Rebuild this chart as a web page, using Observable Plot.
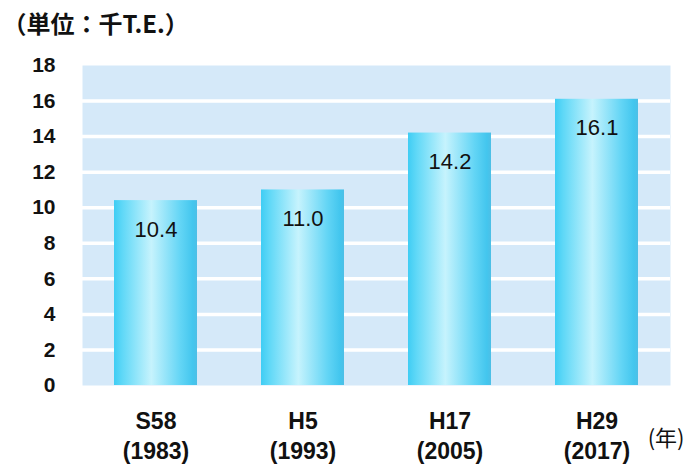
<!DOCTYPE html>
<html><head><meta charset="utf-8">
<script src="https://cdn.jsdelivr.net/npm/d3@7"></script>
<script src="https://cdn.jsdelivr.net/npm/@observablehq/plot@0.6"></script>
<style>
body{margin:0;background:#fff;}
#wrap{position:relative;width:686px;height:467px;}
</style></head>
<body><div id="wrap"></div>
<script>
const categories = ["S58\n(1983)", "H5\n(1993)", "H17\n(2005)", "H29\n(2017)"];
const values = [10.4, 11.0, 14.2, 16.1];
const labels = ["10.4", "11.0", "14.2", "16.1"];
const yTicks = [0, 2, 4, 6, 8, 10, 12, 14, 16, 18];
const gridLines = [2, 4, 6, 8, 10, 12, 14, 16];
const unitLabel = "（単位：千T.E.）";
const xUnit = "(年)";

const data = categories.map((c, i) => ({cat: c, value: values[i], label: labels[i]}));
const font = "'Liberation Sans', Arial, sans-serif";
const cjk = "'Noto Sans CJK JP', sans-serif";

const chart = Plot.plot({
  width: 686, height: 467,
  marginLeft: 82, marginRight: 16, marginTop: 65, marginBottom: 82,
  style: {fontFamily: font, background: "#fff", overflow: "visible"},
  x: {domain: categories, paddingInner: 0.435, paddingOuter: 0.2175, label: null},
  y: {domain: [0, 18], label: null},
  marks: [
    () => {
      const s = d3.create("svg:defs");
      const g = s.append("linearGradient").attr("id", "barGrad").attr("x1", 0).attr("x2", 1).attr("y1", 0).attr("y2", 0);
      [[0, "#3fcdf4"], [0.1, "#5fd8f7"], [0.45, "#c6f3fd"], [0.8, "#63d5f5"], [0.95, "#43c6ee"], [1, "#4dbfe6"]]
        .forEach(([o, c]) => g.append("stop").attr("offset", o).attr("stop-color", c));
      return s.node();
    },
    Plot.frame({fill: "#d5e9f9", stroke: null}),
    Plot.ruleY(gridLines, {stroke: "#fff", strokeWidth: 3.5}),
    Plot.barY(data, {x: "cat", y: "value", fill: "url(#barGrad)"}),
    Plot.text(data, {x: "cat", y: "value", text: "label", dy: 29, fontSize: 22, fill: "#111", fontFamily: font}),
    Plot.axisY(yTicks, {tickSize: 0, tickPadding: 27, fontSize: 21, fontWeight: "bold", fill: "#111", label: null, fontFamily: font}),
    Plot.axisX({tickSize: 0, tickPadding: 22, fontSize: 23, fontWeight: "bold", fill: "#111", lineHeight: 1.3, label: null, fontFamily: font}),
    Plot.text([unitLabel], {frameAnchor: "top-left", dx: -80, dy: -50, fontSize: 24, fontWeight: "bold", fill: "#111", fontFamily: cjk, textAnchor: "start"}),
    Plot.text([xUnit], {frameAnchor: "bottom-right", dx: 14, dy: 60, fontSize: 22, fill: "#111", fontFamily: cjk, textAnchor: "end"})
  ]
});
document.getElementById("wrap").appendChild(chart);
</script></body></html>
